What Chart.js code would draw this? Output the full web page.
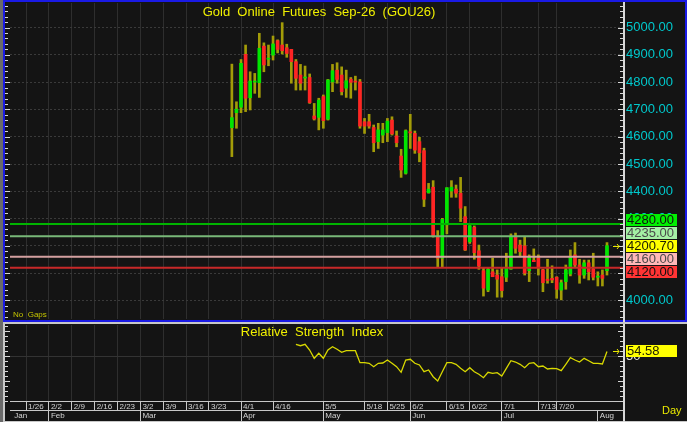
<!DOCTYPE html>
<html>
<head>
<meta charset="utf-8">
<title>Gold Online Futures Sep-26 (GOU26)</title>
<script src="https://cdn.jsdelivr.net/npm/chart.js@4.4.1/dist/chart.umd.min.js"></script>
<style>
  html, body { margin: 0; padding: 0; background: #141414; }
  body { width: 687px; height: 422px; position: relative; overflow: hidden;
         font-family: "Liberation Sans", Arial, sans-serif; }
  .frame { position: absolute; box-sizing: border-box; }
  #frameMain { left: 3px; top: 0; width: 684px; height: 322px; border: 2px solid #1a1ae6; }
  #frameRsi { left: 3px; top: 322px; width: 684px; height: 100px;
              border-top: 2px solid #c8c8c8; border-left: 2px solid #c8c8c8; border-bottom: 1px solid #c8c8c8; }
  #edge { left: 0; top: 0; width: 3px; height: 422px; background: #6a6a6a; }
  canvas { position: absolute; left: 0; z-index: 1; }
  #priceChart { top: 0; }
  #rsiChart { top: 322px; }
  .txt { position: absolute; z-index: 2; white-space: pre; color: #f0f000; }
  #mainTitle { left: 0; width: 638px; top: 4px; text-align: center; font-size: 13px; line-height: 16px; }
  #rsiTitle { left: 0; width: 624px; top: 324px; text-align: center; font-size: 13px; line-height: 16px; }
  #noGaps { left: 13px; top: 310px; font-size: 8px; line-height: 10px; color: #c4c400; }
  #dayLbl { left: 662px; top: 403px; font-size: 11px; line-height: 14px; color: #e8e800; }
</style>
</head>
<body>
<div class="frame" id="edge"></div>
<div class="frame" id="frameMain"></div>
<div class="frame" id="frameRsi"></div>
<canvas id="priceChart" width="687" height="322"></canvas>
<canvas id="rsiChart" width="687" height="100"></canvas>
<div class="txt" id="mainTitle">Gold  Online  Futures  Sep-26  (GOU26)</div>
<div class="txt" id="rsiTitle">Relative  Strength  Index</div>
<div class="txt" id="noGaps">No  Gaps</div>
<div class="txt" id="dayLbl">Day</div>
<script>
// --- axis labels ---
const priceTicks = [4000, 4100, 4200, 4300, 4400, 4500, 4600, 4700, 4800, 4900, 5000];
const weekLabels = ['1/26', '2/2', '2/9', '2/16', '2/23', '3/2', '3/9', '3/16', '3/23', '4/1',
                    '4/16', '5/5', '5/18', '5/25', '6/2', '6/15', '6/22', '7/1', '7/13', '7/20'];
const weekBars = [3, 8, 13, 18, 23, 28, 33, 38, 43, 50, 57, 68, 77, 82, 87, 95, 100, 107, 115, 119];
const monthLabels = ['Jan', 'Feb', 'Mar', 'Apr', 'May', 'Jun', 'Jul', 'Aug'];
const monthBars = [0, 8, 28, 50, 68, 87, 107, 128];
const totalBars = 134;   // bar slots on the time axis
const firstBar = 48;     // slot of the first traded session

// --- daily OHLC ---
const opens = [4633, 4688, 4708, 4902, 4743, 4800, 4798, 4932, 4884, 4899,
               4952, 4936, 4926, 4920, 4875, 4826, 4815, 4817, 4676, 4671,
               4747, 4664, 4801, 4844, 4826, 4778, 4811, 4804, 4801, 4655,
               4655, 4634, 4582, 4606, 4615, 4661, 4603, 4529, 4466, 4618,
               4612, 4582, 4549, 4395, 4415, 4234, 4155, 4277, 4401, 4408,
               4393, 4307, 4215, 4268, 4182, 4109, 4038, 4105, 4093, 4087,
               4085, 4115, 4232, 4203, 4200, 4109, 4147, 4155, 4112, 4078,
               4081, 4085, 4038, 4069, 4097, 4167, 4130, 4093, 4138, 4114,
               4085, 4093, 4109];
const highs = [4866, 4728, 4883, 4936, 4838, 4832, 4979, 4944, 4936, 4969,
               4955, 5018, 4939, 4920, 4883, 4865, 4859, 4830, 4722, 4741,
               4753, 4810, 4865, 4871, 4856, 4844, 4817, 4822, 4810, 4667,
               4682, 4643, 4649, 4649, 4667, 4673, 4621, 4554, 4625, 4682,
               4621, 4598, 4558, 4429, 4439, 4256, 4301, 4413, 4439, 4423,
               4451, 4344, 4274, 4273, 4203, 4118, 4118, 4155, 4112, 4118,
               4173, 4244, 4247, 4221, 4232, 4167, 4189, 4167, 4114, 4151,
               4127, 4087, 4075, 4130, 4185, 4212, 4151, 4148, 4148, 4173,
               4105, 4112, 4212];
const lows = [4527, 4631, 4688, 4692, 4698, 4759, 4744, 4838, 4860, 4881,
              4907, 4903, 4891, 4796, 4771, 4771, 4771, 4722, 4661, 4625,
              4631, 4661, 4765, 4796, 4753, 4744, 4741, 4771, 4631, 4612,
              4631, 4545, 4557, 4578, 4582, 4606, 4563, 4451, 4463, 4557,
              4539, 4508, 4344, 4393, 4232, 4122, 4122, 4244, 4378, 4378,
              4289, 4183, 4209, 4151, 4114, 4016, 4032, 4087, 4012, 4012,
              4069, 4114, 4173, 4163, 4093, 4069, 4142, 4093, 4032, 4063,
              4065, 4008, 4002, 4041, 4090, 4124, 4063, 4081, 4075, 4075,
              4053, 4053, 4093];
const closes = [4670, 4701, 4869, 4741, 4804, 4804, 4924, 4863, 4888, 4940,
                4920, 4915, 4905, 4875, 4814, 4796, 4817, 4725, 4665, 4734,
                4659, 4808, 4842, 4810, 4765, 4805, 4799, 4800, 4639, 4639,
                4639, 4578, 4625, 4625, 4657, 4610, 4578, 4478, 4622, 4614,
                4551, 4541, 4371, 4408, 4234, 4155, 4297, 4413, 4415, 4393,
                4338, 4185, 4274, 4175, 4126, 4045, 4114, 4087, 4078, 4036,
                4122, 4232, 4191, 4179, 4100, 4158, 4142, 4124, 4065, 4073,
                4075, 4041, 4065, 4112, 4160, 4130, 4093, 4138, 4105, 4085,
                4089, 4081, 4200.7];

// --- 14-day RSI (starts at the 15th session) ---
const rsiStart = 14;
const rsiValues = [61.7, 60.3, 61.7, 56.0, 47.7, 52.7, 47.7, 56.0, 59.3, 56.7,
                   53.7, 55.3, 55.3, 55.3, 43.3, 43.3, 42.7, 39.3, 42.7, 43.0,
                   46.0, 42.7, 39.3, 33.7, 46.0, 46.7, 42.7, 41.0, 34.3, 36.0,
                   29.3, 25.0, 34.3, 43.3, 43.3, 41.7, 37.7, 34.3, 38.3, 34.3,
                   31.7, 28.3, 33.7, 32.7, 33.3, 30.0, 37.7, 45.3, 44.0, 41.7,
                   38.3, 42.7, 43.3, 39.3, 40.0, 37.0, 37.7, 37.3, 35.3, 41.7,
                   48.3, 46.0, 44.0, 47.7, 45.3, 42.7, 42.7, 42.0, 54.58];
const rsiTicks = [50];

// --- horizontal price levels ---
const levelValues = [4280, 4235, 4160, 4120];
const levelLineColors = ['#00b400', '#78b878', '#d4a0a0', '#c82828'];
const levelTagColors = ['#00f000', '#a4f0a4', '#ffb8b8', '#ff3434'];
const lastPrice = 4200.70;
const lastRsi = 54.58;

Chart.defaults.font.family = '"Liberation Sans", Arial, sans-serif';
Chart.defaults.animation = false;

// right-hand value tags, pushed apart when they overlap
const valueTags = {
  id: 'valueTags',
  afterDraw(chart, args, opts) {
    const { ctx, chartArea } = chart;
    const ys = chart.scales.y;
    const h = 13;
    const tags = opts.tags.map(t => ({ text: t.text, bg: t.bg, fg: t.fg, arrow: t.arrow,
                                       py: ys.getPixelForValue(t.value) }))
                          .sort((a, b) => a.py - b.py);
    const pos = tags.map(t => t.py);
    for (let i = 1; i < pos.length; i++) {
      if (pos[i] < pos[i - 1] + h) pos[i] = pos[i - 1] + h;
    }
    const shift = (tags.reduce((s, t) => s + t.py, 0) - pos.reduce((s, p) => s + p, 0)) / pos.length;
    ctx.save();
    ctx.font = '13px "Liberation Sans", Arial, sans-serif';
    ctx.textBaseline = 'middle';
    tags.forEach((t, i) => {
      const cy = pos[i] + shift;
      ctx.fillStyle = t.bg;
      ctx.fillRect(chartArea.right + 3, Math.round(cy - 6), 51, 12);
      ctx.fillStyle = t.fg;
      ctx.fillText(t.text, chartArea.right + 4, cy + 0.5);
      if (t.arrow) {
        const ay = Math.round(t.py) + 0.5;
        const ax = chartArea.right - 4;
        ctx.strokeStyle = '#e8e800';
        ctx.lineWidth = 1;
        ctx.beginPath();
        ctx.moveTo(ax - 6, ay); ctx.lineTo(ax, ay);
        ctx.moveTo(ax - 2, ay - 2.5); ctx.lineTo(ax, ay); ctx.lineTo(ax - 2, ay + 2.5);
        ctx.stroke();
      }
    });
    ctx.restore();
  }
};

// axis line with small tick marks on both edges of the panel
const edgeMarks = {
  id: 'edgeMarks',
  afterDatasetsDraw(chart, args, opts) {
    const { ctx, chartArea } = chart;
    const ys = chart.scales.y;
    ctx.save();
    ctx.strokeStyle = '#d8d8d8';
    ctx.lineWidth = 2;
    ctx.beginPath();
    ctx.moveTo(chartArea.right + 1, opts.lineTop);
    ctx.lineTo(chartArea.right + 1, chart.height);
    ctx.stroke();
    ctx.lineWidth = 1;
    ctx.beginPath();
    for (let v = Math.ceil(ys.min / opts.step) * opts.step; v <= ys.max; v += opts.step) {
      const py = Math.round(ys.getPixelForValue(v)) + 0.5;
      const len = (v % opts.major === 0) ? 5 : 3;
      ctx.moveTo(chartArea.right - len, py); ctx.lineTo(chartArea.right, py);
      ctx.moveTo(5, py); ctx.lineTo(5 + len, py);
    }
    ctx.stroke();
    ctx.restore();
  }
};

const fixedTicks = values => scale => { scale.ticks = values.map(v => ({ value: v })); };
// fixed axis width, and no extra room reserved for the end labels
const fixedWidth = w => scale => { scale.width = w; scale.paddingTop = 0; scale.paddingBottom = 0; };

const barX = i => firstBar + i;

const levelDatasets = levelValues.map((v, k) => ({
  type: 'line',
  data: [{ x: -0.5, y: v }, { x: totalBars - 0.5, y: v }],
  borderColor: levelLineColors[k],
  borderWidth: 2,
  pointRadius: 0
}));

new Chart(document.getElementById('priceChart'), {
  type: 'bar',
  data: {
    datasets: [
      ...levelDatasets,
      {
        data: opens.map((o, i) => ({ x: barX(i), y: [o, closes[i]] })),
        backgroundColor: ctx => closes[ctx.dataIndex] >= opens[ctx.dataIndex] ? '#00e600' : '#ff2424',
        barThickness: 3,
        minBarLength: 1,
        grouped: false
      },
      {
        data: lows.map((l, i) => ({ x: barX(i), y: [l, highs[i]] })),
        backgroundColor: '#a39c08',
        barThickness: 2,
        grouped: false
      }
    ]
  },
  options: {
    responsive: false,
    layout: { padding: { left: 10, right: 0, top: 3, bottom: 3 } },
    plugins: {
      legend: { display: false },
      tooltip: { enabled: false },
      valueTags: {
        tags: [
          ...levelValues.map((v, k) => ({ value: v, text: v.toFixed(2), bg: levelTagColors[k],
                                          fg: k === 1 || k === 2 ? '#4a4a4a' : '#101010', arrow: false })),
          { value: lastPrice, text: lastPrice.toFixed(2), bg: '#ffff00', fg: '#202000', arrow: true }
        ]
      },
      edgeMarks: { step: 20, major: 100, lineTop: 2 }
    },
    scales: {
      x: {
        type: 'linear', min: -0.5, max: totalBars - 0.5, offset: false,
        afterBuildTicks: fixedTicks(weekBars),
        afterFit: s => { s.height = 0; s.paddingLeft = 0; s.paddingRight = 0; },
        ticks: { display: false },
        grid: { color: '#2e2e2e', drawTicks: false, offset: false },
        border: { display: false }
      },
      y: {
        position: 'right', min: 3932, max: 5090,
        afterBuildTicks: fixedTicks(priceTicks),
        afterFit: fixedWidth(64),
        ticks: { color: '#00c8cc', padding: 3, font: { size: 13 }, callback: v => v.toFixed(2) },
        grid: { color: '#3a3a3a', drawTicks: false },
        border: { display: false, dash: [2, 2] }
      }
    }
  },
  plugins: [edgeMarks, valueTags]
});

new Chart(document.getElementById('rsiChart'), {
  type: 'line',
  data: {
    datasets: [{
      data: rsiValues.map((r, j) => ({ x: barX(rsiStart + j), y: r })),
      borderColor: '#d8d800',
      borderWidth: 1.3,
      pointRadius: 0,
      tension: 0
    }]
  },
  options: {
    responsive: false,
    layout: { padding: { left: 10, right: 0, top: 3, bottom: 1 } },
    plugins: {
      legend: { display: false },
      tooltip: { enabled: false },
      valueTags: {
        tags: [{ value: lastRsi, text: lastRsi.toFixed(2), bg: '#ffff00', fg: '#202000', arrow: true }]
      },
      edgeMarks: { step: 5, major: 25, lineTop: 2 }
    },
    scales: {
      x: {
        type: 'linear', position: 'bottom', weight: 0,
        min: -0.5, max: totalBars - 0.5, offset: false,
        afterBuildTicks: fixedTicks(weekBars),
        afterFit: s => { s.height = 9; s.paddingLeft = 0; s.paddingRight = 0; },
        ticks: { color: '#d4d4d4', font: { size: 8 }, align: 'start', labelOffset: 2,
                 padding: -8, autoSkip: false, maxRotation: 0, minRotation: 0,
                 callback: (v, i) => weekLabels[i] },
        grid: { color: '#2e2e2e', tickColor: '#c8c8c8', tickLength: 9, offset: false },
        border: { display: true, color: '#c8c8c8', width: 1 }
      },
      xm: {
        type: 'linear', position: 'bottom', weight: 1,
        min: -0.5, max: totalBars - 0.5, offset: false,
        afterBuildTicks: fixedTicks(monthBars),
        afterFit: s => { s.height = 11; s.paddingLeft = 0; s.paddingRight = 0; },
        ticks: { color: '#d4d4d4', font: { size: 8 }, align: 'start', labelOffset: 2,
                 padding: -10, autoSkip: false, maxRotation: 0, minRotation: 0,
                 callback: (v, i) => monthLabels[i] },
        grid: { drawOnChartArea: false, tickLength: 11, offset: false,
                tickColor: ctx => ctx.index === 0 ? 'rgba(0,0,0,0)' : '#c8c8c8' },
        border: { display: true, color: '#c8c8c8', width: 1 }
      },
      y: {
        position: 'right', min: 5, max: 81,
        afterBuildTicks: fixedTicks(rsiTicks),
        afterFit: fixedWidth(64),
        ticks: { color: '#e0e0e0', padding: 3, font: { size: 13 } },
        grid: { color: '#333333', drawTicks: false },
        border: { display: false }
      }
    }
  },
  plugins: [edgeMarks, valueTags]
});
</script>
</body>
</html>
